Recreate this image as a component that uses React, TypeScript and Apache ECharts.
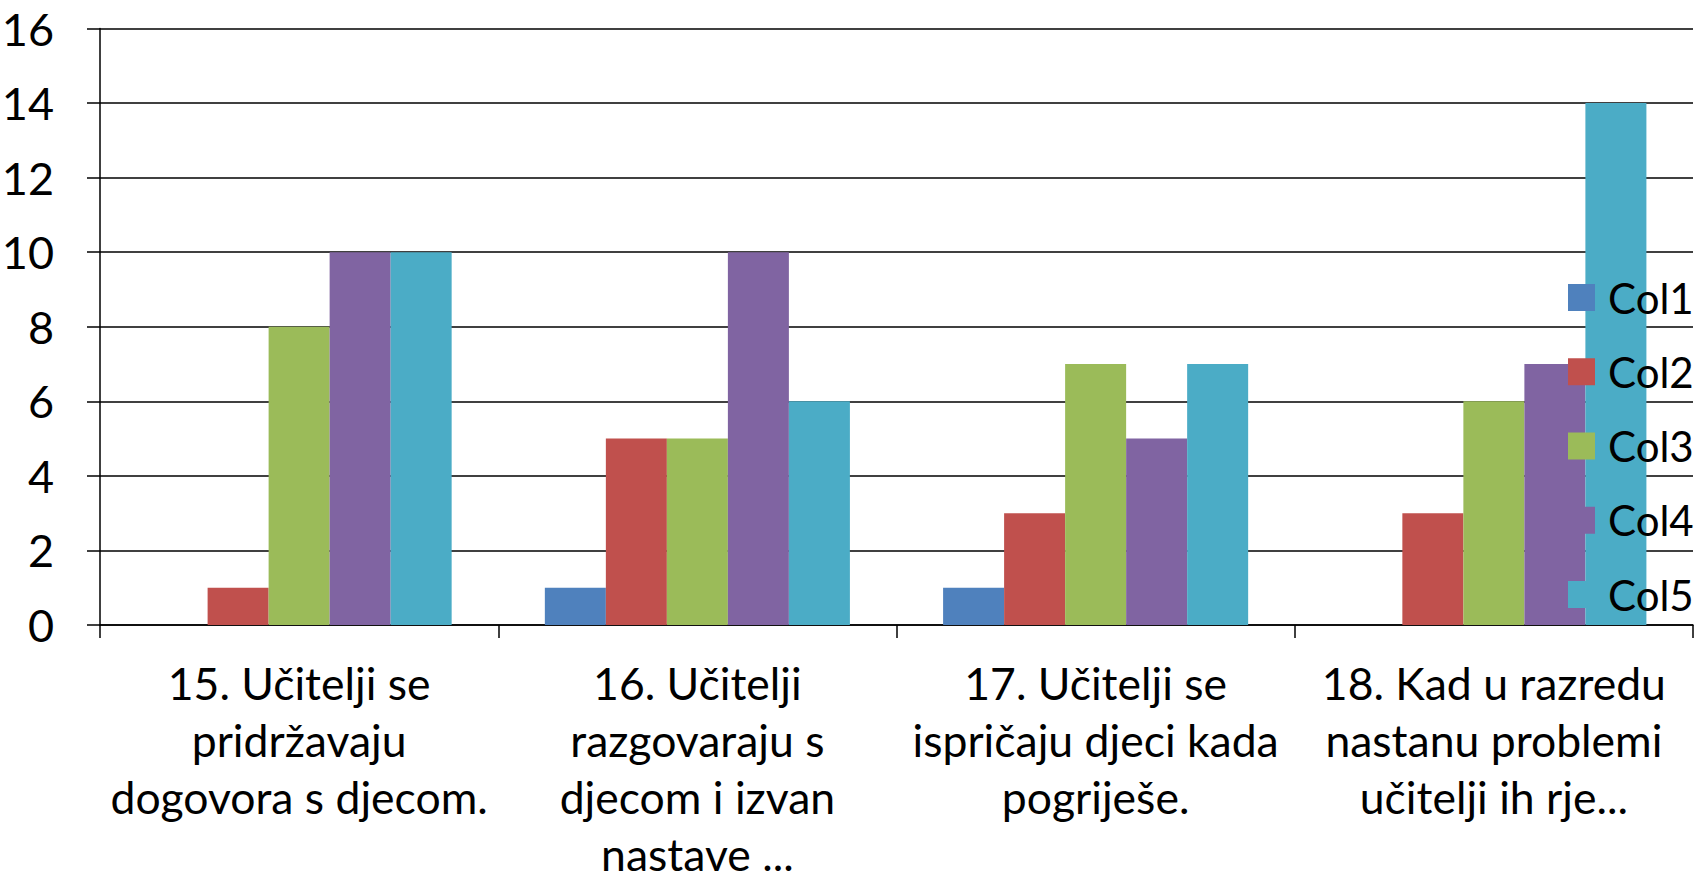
import React, { useEffect, useRef } from "react";
import * as echarts from "echarts";

const categories = [
  "15. Učitelji se\npridržavaju\ndogovora s djecom.",
  "16. Učitelji\nrazgovaraju s\ndjecom i izvan\nnastave ...",
  "17. Učitelji se\nispričaju djeci kada\npogriješe.",
  "18. Kad u razredu\nnastanu problemi\nučitelji ih rje...",
];
const seriesNames = ["Col1", "Col2", "Col3", "Col4", "Col5"];
const col1 = [0, 1, 1, 0];
const col2 = [1, 5, 3, 3];
const col3 = [8, 5, 7, 6];
const col4 = [10, 10, 5, 7];
const col5 = [10, 6, 7, 14];
const colors = ["#4F81BD", "#C0504D", "#9BBB59", "#8064A2", "#4BACC6"];
const yTicks = { min: 0, max: 16, interval: 2 };

export default function App() {
  const ref = useRef<HTMLDivElement>(null);
  useEffect(() => {
    if (!ref.current) return;
    const chart = echarts.init(ref.current, null, { renderer: "svg" });
    const font = "Lato, 'Noto Sans', sans-serif";
    const values = [col1, col2, col3, col4, col5];
    chart.setOption({
      animation: false,
      backgroundColor: "#ffffff",
      color: colors,
      textStyle: { fontFamily: font },
      grid: {
        left: 100,
        right: 3,
        top: 28.5,
        bottom: 258,
        containLabel: false,
        outerBoundsMode: "none",
      },
      legend: {
        orient: "vertical",
        left: 1563,
        top: 270,
        itemWidth: 27,
        itemHeight: 27,
        itemGap: 29.25,
        icon: "rect",
        data: seriesNames,
        textStyle: {
          fontSize: 42,
          lineHeight: 45,
          color: "#000",
          fontFamily: font,
          padding: [0, 0, 0, 8],
        },
      },
      xAxis: {
        type: "category",
        data: categories,
        axisLine: { show: true, lineStyle: { color: "#000", width: 1.5 } },
        axisTick: { show: true, length: 13, alignWithLabel: false, lineStyle: { color: "#000", width: 1.5 } },
        axisLabel: {
          interval: 0,
          fontSize: 44.5,
          lineHeight: 57,
          color: "#000",
          margin: 29,
          fontFamily: font,
          align: "center",
        },
      },
      yAxis: {
        type: "value",
        min: yTicks.min,
        max: yTicks.max,
        interval: yTicks.interval,
        axisLine: { show: true, lineStyle: { color: "#000", width: 1.5 } },
        axisTick: { show: true, length: 13, lineStyle: { color: "#000", width: 1.5 } },
        splitLine: { show: true, lineStyle: { color: "#000", width: 1.5 } },
        axisLabel: { fontSize: 45, color: "#000", margin: 46, fontFamily: font },
      },
      series: seriesNames.map((name, i) => ({
        name,
        type: "bar",
        data: values[i],
        barGap: "0%",
        barCategoryGap: "23.4%",
        itemStyle: { color: colors[i] },
      })),
    });
    return () => chart.dispose();
  }, []);
  return (
    <div
      ref={ref}
      style={{ position: "absolute", left: 0, top: 0, width: 1696, height: 883 }}
    />
  );
}
